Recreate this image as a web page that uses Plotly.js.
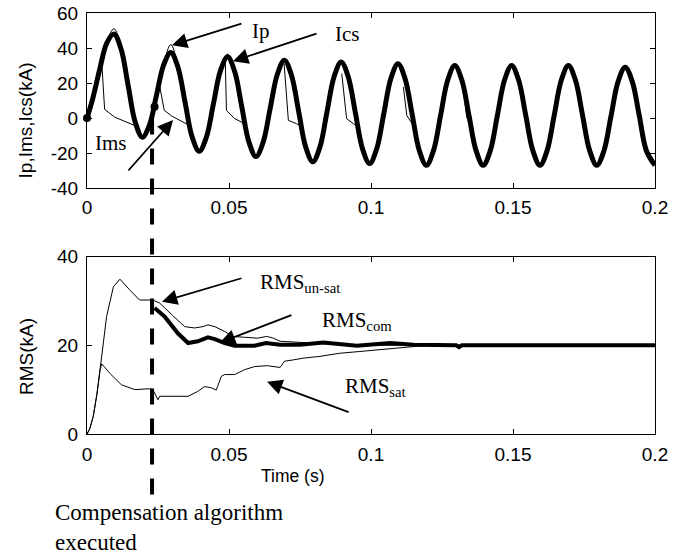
<!DOCTYPE html>
<html>
<head>
<meta charset="utf-8">
<script src="https://cdn.plot.ly/plotly-3.0.1.min.js"></script>
<style>html,body{margin:0;padding:0;background:#fff;}#chart{width:691px;height:557px;}</style>
</head>
<body>
<div id="chart"></div>
<script>
// ---------- Top panel data: currents (kA) ----------
const tGrid = [0,0.002,0.0045,0.007,0.0095,0.012,0.0145,0.017,0.0195,0.022,0.0245,0.027,0.0295,0.032,0.0345,0.037,0.0395,0.042,0.0445,0.047,0.0495,0.052,0.0545,0.057,0.0595,0.062,0.0645,0.067,0.0695,0.072,0.0745,0.077,0.0795,0.082,0.0845,0.087,0.0895,0.092,0.0945,0.097,0.0995,0.102,0.1045,0.107,0.1095,0.112,0.1145,0.117,0.1195,0.122,0.1245,0.127,0.1295,0.132,0.1345,0.137,0.1395,0.142,0.1445,0.147,0.1495,0.152,0.1545,0.157,0.1595,0.162,0.1645,0.167,0.1695,0.172,0.1745,0.177,0.1795,0.182,0.1845,0.187,0.1895,0.192,0.1945,0.197,0.2];
const Ics = [0,11,28,43,48, 39.4,18.5,-2.4,-11, -3.9,13.3,30.4,37.5, 29.2,9.3,-10.7,-19, -11.1,8,27.1,35, 26.6,6.5,-13.6,-22, -13.9,5.5,24.9,33, 24.5,4,-16.5,-25, -16.6,3.5,23.6,32, 23.5,3,-17.5,-26, -17.6,2.5,22.6,31, 22.5,2,-18.5,-27, -18.6,1.5,21.6,30, 21.6,1.5,-18.6,-27, -18.6,1.5,21.6,30, 21.6,1.5,-18.6,-27, -18.6,1.5,21.6,30, 21.6,1.5,-18.6,-27, -18.8,1,20.8,29, 20.8,1,-18.8,-27];
const Ip  = [0,11,28,44,51, 40.5,18.5,-2.4,-11, -3.9,13.3,31,42, 30,9.3,-10.7,-19, -11.1,8,27.1,36.5, 26.6,6.5,-13.6,-22, -13.9,5.5,24.9,33, 24.5,4,-16.5,-25, -16.6,3.5,23.6,32, 23.5,3,-17.5,-26, -17.6,2.5,22.6,31, 22.5,2,-18.5,-27, -18.6,1.5,21.6,30, 21.6,1.5,-18.6,-27, -18.6,1.5,21.6,30, 21.6,1.5,-18.6,-27, -18.6,1.5,21.6,30, 21.6,1.5,-18.6,-27, -18.8,1,20.8,29, 20.8,1,-18.8,-27];
// Ims: only the saturated excursions (elsewhere it lies under Ics)
const ImsT = [0.0053,0.0062,0.0098,0.013,0.0156,0.0172,null, 0.0255,0.0272,0.03,0.0326,0.0353,null, 0.0487,0.0491,0.052,0.0543,0.0558,null, 0.0694,0.0709,0.0738,0.0752,null, 0.0897,0.0914,0.0938,0.0948,null, 0.1114,0.1126,0.1137,0.1146,null, 0.1325,0.1337,0.1343];
const ImsV = [29,5,0.5,-1.5,-3.2,-4.5,null, 19,4.4,1,-1.3,-3.5,null, 32,4.4,-0.3,-2.2,-4,null, 31,-1.3,-3.2,-4.5,null, 25.4,-0.3,-3.2,-4.5,null, 17.8,1.6,-1.3,-3.5,null, 16,0.6,-2];
const dotT = [0, 0.0238];
const dotV = [0, 6.5];

// ---------- Bottom panel data: RMS (kA) ----------
const unsatT = [0,0.001,0.0022,0.0035,0.0046,0.0069,0.0093,0.0116,0.015,0.0185,0.0232,0.0256,0.03,0.0344,0.0379,0.0408,0.0426,0.045,0.0485,0.0514,0.0555,0.06,0.0633,0.0656,0.068,0.075,0.085,0.095,0.105,0.2];
const unsatV = [0,1.2,4,9,14.5,26.5,33.2,34.9,32.5,30.2,30.2,29.5,26.8,24.2,23.9,24.2,24.6,24.2,23.1,22,21.8,21.6,22,21.6,20.9,20.6,20.3,20.1,20,20];
const satT = [0,0.001,0.0022,0.0035,0.0046,0.0052,0.008,0.0121,0.0168,0.022,0.0232,0.0238,0.025,0.0256,0.0356,0.039,0.0414,0.0438,0.0455,0.0473,0.0485,0.052,0.0555,0.059,0.0635,0.068,0.0695,0.0726,0.0762,0.082,0.089,0.0961,0.103,0.1114,0.117,0.12,0.2];
const satV = [0,1.2,4,9,14.5,15.8,13.7,11.1,10,10.2,10,9.2,7.7,8.5,8.5,9.6,10.7,10.4,9.9,13,13.4,13.4,14.5,15.2,15.4,15,16.4,16.7,17.1,17.5,18.2,18.6,19,19.4,19.8,20,20];
const comT = [0.0238,0.0273,0.032,0.0356,0.039,0.0426,0.045,0.0485,0.052,0.059,0.063,0.068,0.075,0.0832,0.095,0.1067,0.115,0.13,0.131,0.132,0.2];
const comV = [28.4,26.5,22.7,20.5,20.9,21.8,21.4,20.5,19.9,19.9,20.5,20.1,20.1,20.6,19.9,20.5,20.1,20,19.6,20,20];

// ---------- Labels ----------
const xTickVals = [0,0.05,0.1,0.15,0.2];
const xTickText = ['0','0.05','0.1','0.15','0.2'];
const yTopVals = [-40,-20,0,20,40,60];
const yTopText = ['-40','-20','0','20','40','60'];
const yBotVals = [0,20,40];
const yBotText = ['0','20','40'];
const tCompensation = 0.0229;

const sans = 'Liberation Sans, Arial, sans-serif';
const serif = 'Liberation Serif, Times New Roman, serif';

const traces = [
  {x: ImsT, y: ImsV, xaxis:'x', yaxis:'y', mode:'lines', line:{color:'black', width:1}, connectgaps:false, hoverinfo:'skip'},
  {x: tGrid, y: Ip, xaxis:'x', yaxis:'y', mode:'lines', line:{color:'black', width:1, shape:'spline'}, hoverinfo:'skip'},
  {x: tGrid, y: Ics, xaxis:'x', yaxis:'y', mode:'lines', line:{color:'black', width:5, shape:'spline'}, hoverinfo:'skip'},
  {x: dotT, y: dotV, xaxis:'x', yaxis:'y', mode:'markers', marker:{color:'black', size:8}, cliponaxis:false, hoverinfo:'skip'},
  {x: unsatT, y: unsatV, xaxis:'x2', yaxis:'y2', mode:'lines', line:{color:'black', width:1}, hoverinfo:'skip'},
  {x: satT, y: satV, xaxis:'x2', yaxis:'y2', mode:'lines', line:{color:'black', width:1}, hoverinfo:'skip'},
  {x: comT, y: comV, xaxis:'x2', yaxis:'y2', mode:'lines', line:{color:'black', width:4}, hoverinfo:'skip'}
];

function axisBase(){
  return {showline:true, linecolor:'black', linewidth:1, mirror:'ticks', ticks:'inside', ticklen:5,
          tickcolor:'black', tickwidth:1, showgrid:false, zeroline:false,
          tickfont:{family:sans, size:19, color:'black'}, fixedrange:true};
}
const xa = Object.assign(axisBase(), {domain:[0,1], anchor:'y', range:[0,0.2], tickmode:'array', tickvals:xTickVals, ticktext:xTickText, ticklabelstandoff:2});
const ya = Object.assign(axisBase(), {domain:[0.584,1], anchor:'x', range:[-40,60], tickmode:'array', tickvals:yTopVals, ticktext:yTopText, ticklabelstandoff:4});
const xa2 = Object.assign(axisBase(), {domain:[0,1], anchor:'y2', range:[0,0.2], tickmode:'array', tickvals:xTickVals, ticktext:xTickText, ticklabelstandoff:3});
const ya2 = Object.assign(axisBase(), {domain:[0,0.4215], anchor:'x2', range:[0,40], tickmode:'array', tickvals:yBotVals, ticktext:yBotText, ticklabelstandoff:4});

function arrow(xr, yr, x, y, ax, ay){
  return {xref:xr, yref:yr, x:x, y:y, ax:ax, ay:ay, axref:'pixel', ayref:'pixel', text:'', showarrow:true,
          arrowhead:2, arrowsize:1.7, arrowwidth:1.8, arrowcolor:'black', standoff:0, startstandoff:0};
}
function label(xr, yr, x, y, txt){
  return {xref:xr, yref:yr, x:x, y:y, text:txt, showarrow:false, xanchor:'left', yanchor:'middle',
          font:{family:serif, size:21, color:'black'}};
}

const annotations = [
  arrow('x','y', 0.0299, 41.6, 71, -22),
  arrow('x','y', 0.0514, 32.5, 85, -28),
  arrow('x','y', 0.0303, -1.1, -46, 52),
  arrow('x2','y2', 0.0264, 29.8, 81, -24),
  arrow('x2','y2', 0.0468, 20.6, 73, -28),
  arrow('x2','y2', 0.0634, 11.8, 83, 31),
  label('x','y', 0.0574, 50, 'Ip'),
  label('x','y', 0.0866, 48, 'Ics'),
  label('x','y', 0.002, -14.5, 'Ims'),
  label('x2','y2', 0.0602, 34, 'RMS<sub>un-sat</sub>'),
  label('x2','y2', 0.082, 25.5, 'RMS<sub>com</sub>'),
  label('x2','y2', 0.0901, 10.5, 'RMS<sub>sat</sub>'),
  {xref:'paper', yref:'paper', x:-0.0599, y:-0.151, xanchor:'left', yanchor:'top', align:'left', showarrow:false,
   text:'Compensation algorithm<br>executed', font:{family:serif, size:23, color:'black'}},
  {xref:'paper', yref:'paper', x:0.3627, y:-0.099, xanchor:'center', yanchor:'middle', showarrow:false,
   text:'Time (s)', font:{family:sans, size:17.5, color:'black'}},
  {xref:'paper', yref:'paper', x:-0.108, y:0.744, xanchor:'center', yanchor:'middle', textangle:-90, showarrow:false,
   text:'Ip,Ims,Ics(kA)', font:{family:sans, size:19, color:'black'}},
  {xref:'paper', yref:'paper', x:-0.1056, y:0.183, xanchor:'center', yanchor:'middle', textangle:-90, showarrow:false,
   text:'RMS(kA)', font:{family:sans, size:19, color:'black'}}
];

const shapes = [
  {type:'line', xref:'x', yref:'paper', x0:tCompensation, x1:tCompensation, y0:-0.144, y1:0.77,
   line:{color:'black', width:4, dash:'16px,14px'}, layer:'above'}
];

const layout = {
  width:691, height:557, margin:{l:87, r:36, t:13, b:123},
  paper_bgcolor:'white', plot_bgcolor:'white', showlegend:false,
  xaxis:xa, yaxis:ya, xaxis2:xa2, yaxis2:ya2,
  annotations:annotations, shapes:shapes
};

Plotly.newPlot('chart', traces, layout, {displayModeBar:false, staticPlot:true});
</script>
</body>
</html>
